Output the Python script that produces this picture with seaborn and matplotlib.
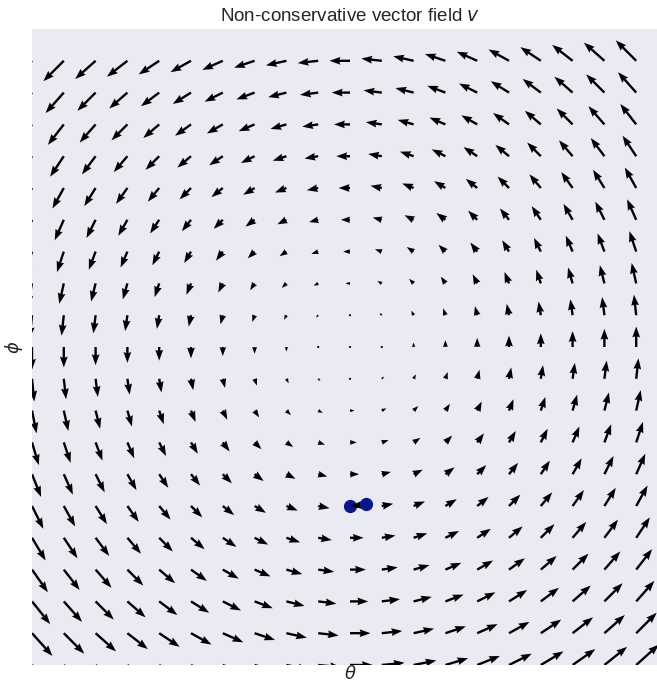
"""Rotational (non-conservative) vector field drawn with quiver on a seaborn dark background."""
import matplotlib
matplotlib.use("Agg")
import matplotlib.pyplot as plt
import numpy as np
import seaborn as sns

# grid of sample points (theta, phi)
theta_vals = [-10, -9, -8, -7, -6, -5, -4, -3, -2, -1, 0, 1, 2, 3, 4, 5, 6, 7, 8, 9]
phi_vals = [-10, -9, -8, -7, -6, -5, -4, -3, -2, -1, 0, 1, 2, 3, 4, 5, 6, 7, 8, 9]

# two points of a short trajectory step
path_theta = [0.0, 0.5]
path_phi = [-5.0, -4.95]

sns.set_theme(style="dark", rc={"axes.facecolor": "#EAEAF2"})
plt.rcParams["font.family"] = ["Liberation Sans", "DejaVu Sans"]

TH, PH = np.meshgrid(theta_vals, phi_vals)
U = -PH
V = TH

arrow_kw = dict(angles="xy", scale_units="xy", width=0.0037, headwidth=3.3,
                headlength=4.6, headaxislength=4.2, color="black")

fig = plt.figure(figsize=(6.57, 6.82), dpi=100)
ax = fig.add_axes([32 / 657, 17 / 682, 636 / 657, 636 / 682])
ax.quiver(TH, PH, U, V, scale=14.0, zorder=2, **arrow_kw)

ax.plot(path_theta[:1], path_phi[:1], "o", color="#0b168c", markersize=8.5, zorder=3)
ax.quiver(path_theta[1], path_phi[1], path_theta[0] - path_theta[1], path_phi[0] - path_phi[1],
          scale=1, zorder=4, **arrow_kw)
ax.plot(path_theta[1:], path_phi[1:], "o", color="#0b168c", markersize=8.5, zorder=5)

ax.set_xlim(-10, 10)
ax.set_ylim(-10, 10)
ax.set_xticks([])
ax.set_yticks([])
for spine in ax.spines.values():
    spine.set_visible(False)
ax.set_xlabel(r"$\theta$", fontsize=13, labelpad=0)
ax.set_ylabel(r"$\phi$", fontsize=13, labelpad=5)
ax.set_title(r"Non-conservative vector field $v$", fontsize=13.5, pad=6)

fig.savefig("out.png", dpi=100)
